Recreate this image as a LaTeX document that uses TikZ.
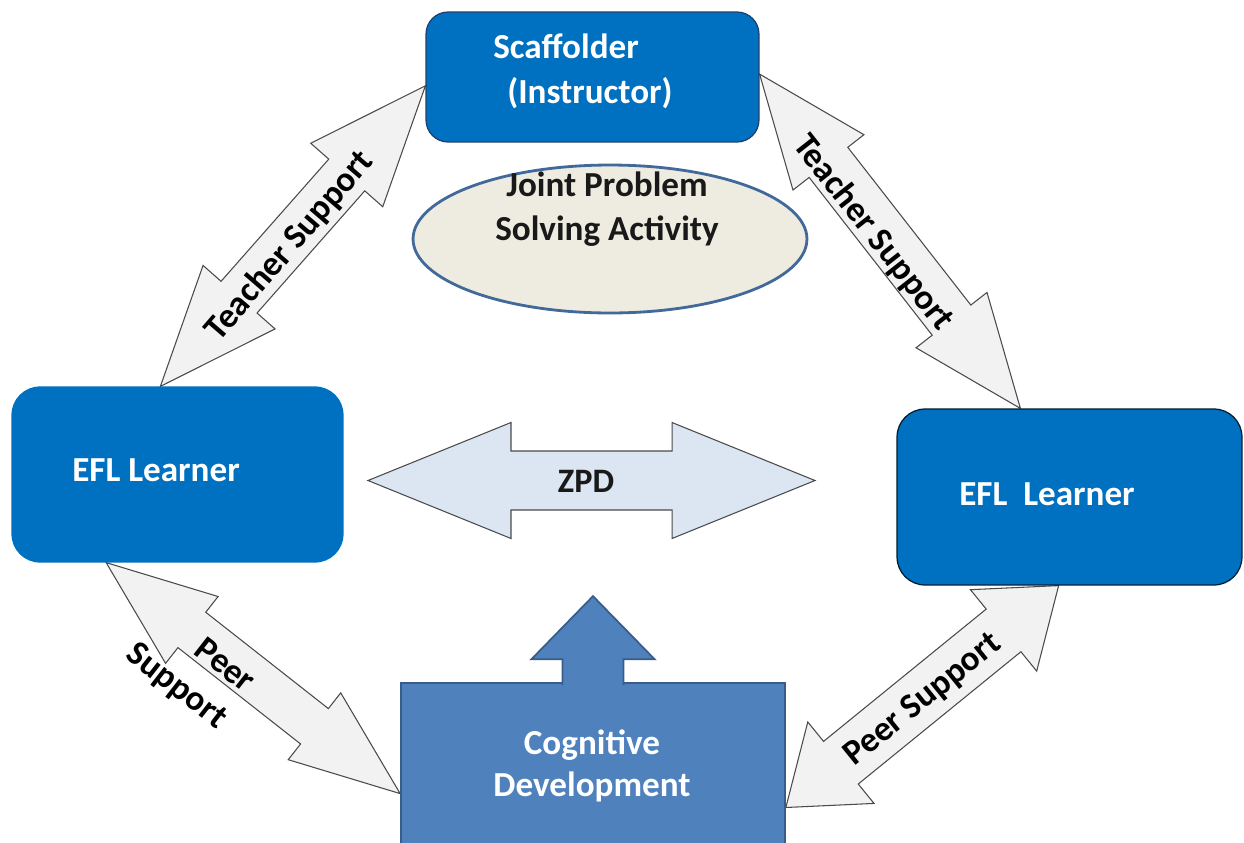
\documentclass[tikz,border=0pt]{standalone}
\usepackage{fontspec}
\setmainfont{Carlito}
\usetikzlibrary{calc,shapes.geometric}
\pgfdeclarelayer{bg}
\pgfsetlayers{bg,main}
\newlength\pxu
\setlength\pxu{0.02cm}
\definecolor{boxblue}{HTML}{0070C0}
\definecolor{boxedge}{HTML}{1F3F6E}
\definecolor{cogfill}{HTML}{4F81BD}
\definecolor{cogedge}{HTML}{385D8A}
\definecolor{arrowgray}{HTML}{F2F2F2}
\definecolor{arrowedge}{HTML}{4A4A4A}
\definecolor{zpdfill}{HTML}{DCE6F2}
\definecolor{ellfill}{HTML}{EEECE1}
\definecolor{elledge}{HTML}{41699A}
% block double arrow: tip a, tip b, head length, head half-width, shaft half-width, style
\newcommand\dblarrow[6]{%
  \coordinate (ha) at ($(#1)!#3!(#2)$);
  \coordinate (hb) at ($(#2)!#3!(#1)$);
  \draw[#6] (#1)
    -- ($(ha)!#4!90:(#2)$) -- ($(ha)!#5!90:(#2)$)
    -- ($(hb)!#5!-90:(#1)$) -- ($(hb)!#4!-90:(#1)$)
    -- (#2)
    -- ($(hb)!#4!90:(#1)$) -- ($(hb)!#5!90:(#1)$)
    -- ($(ha)!#5!-90:(#2)$) -- ($(ha)!#4!-90:(#2)$)
    -- cycle;
}
\begin{document}
\begin{tikzpicture}[x=0.02cm, y=-0.02cm,
  bluebox/.style={rectangle, fill=boxblue, draw=boxedge, line width=0.7pt, inner sep=0pt},
  boxtext/.style={font=\fontsize{20}{25.5}\selectfont\bfseries, text=white, inner sep=0pt},
  darktext/.style={font=\fontsize{20}{25}\selectfont\bfseries, text=black!90, inner sep=0pt},
  grayarrow/.style={fill=arrowgray, draw=arrowedge, line width=0.6pt, line join=miter},
  arrowtext/.style={font=\fontsize{20}{26}\selectfont\bfseries, text=black, inner sep=0pt},
]
\useasboundingbox (0,0) rectangle (1244,842);
\clip (0,0) rectangle (1244,842);

% boxes
\node[bluebox, rounded corners=0.44cm, minimum width=6.66cm, minimum height=2.6cm] (scaf) at (592.5,77) {};
\node[bluebox, draw=boxblue, rounded corners=0.56cm, minimum width=6.62cm, minimum height=3.5cm] (efl1) at (177.5,474.5) {};
\node[bluebox, draw=black!75!boxblue, rounded corners=0.56cm, minimum width=6.9cm, minimum height=3.52cm] (efl2) at (1069.5,497) {};
\node[rectangle, fill=cogfill, draw=cogedge, line width=1pt, minimum width=7.68cm, minimum height=3.34cm] (cog) at (593,766.5) {};
% upward arrow rising out of the cognitive development box
\path[fill=cogfill, draw=cogedge, line width=1pt, line join=miter]
  ($(cog.north)+(-30.5,3)$) -- ($(cog.north)+(-30.5,-23)$) -- ($(cog.north)+(-61.5,-23)$)
  -- ($(cog.north)+(0,-86)$) -- ($(cog.north)+(61.5,-23)$) -- ($(cog.north)+(30.5,-23)$)
  -- ($(cog.north)+(30.5,3)$);
\node[ellipse, fill=ellfill, draw=elledge, line width=1.6pt, minimum width=7.88cm, minimum height=2.96cm, inner sep=0pt] (jpsa) at (610,239) {};

% texts
\node[boxtext, align=left, anchor=west] (scaftext) at (493,71.5) {Scaffolder\\\hspace*{14\pxu}(Instructor)};
\node[boxtext] (efl1text) at (156,470) {EFL Learner};
\node[boxtext] (efl2text) at (1047,494) {EFL\ \ Learner};
\node[boxtext, align=center, font=\fontsize{20}{24}\selectfont\bfseries] (cogtext) at (592,766) {Cognitive\\Development};
\node[darktext, align=center] (jpsatext) at (607,209) {Joint Problem\\Solving Activity};

% zone of proximal development
\coordinate (zpdL) at (368,480.5);
\coordinate (zpdR) at (815,480.5);
\dblarrow{zpdL}{zpdR}{2.86cm}{1.16cm}{0.59cm}{fill=zpdfill, draw=arrowedge, line width=0.6pt, line join=miter}
\node[darktext, font=\fontsize{19.5}{22}\selectfont\bfseries] (zpdtext) at (586,481) {ZPD};

% support arrows
\begin{pgfonlayer}{bg}
\dblarrow{scaf.183}{efl1.101}{2.38cm}{0.96cm}{0.48cm}{grayarrow}
\dblarrow{scaf.1}{efl2.119}{2.24cm}{0.9cm}{0.49cm}{grayarrow}
\dblarrow{efl1.231}{cog.188}{2.18cm}{0.85cm}{0.45cm}{grayarrow}
\dblarrow{efl2.263}{cog.348}{1.42cm}{1.05cm}{0.55cm}{grayarrow}
\end{pgfonlayer}
\node[arrowtext, rotate=49.3] (ts1) at (290,246) {Teacher Support};
\node[arrowtext, rotate=-51.9] (ts2) at (873,233) {Teacher Support};
\node[arrowtext, rotate=-37.9, align=right] (ps1) at (190,669) {Peer\\Support};
\node[arrowtext, rotate=38.9] (ps2) at (923,700) {Peer Support};
\end{tikzpicture}
\end{document}
